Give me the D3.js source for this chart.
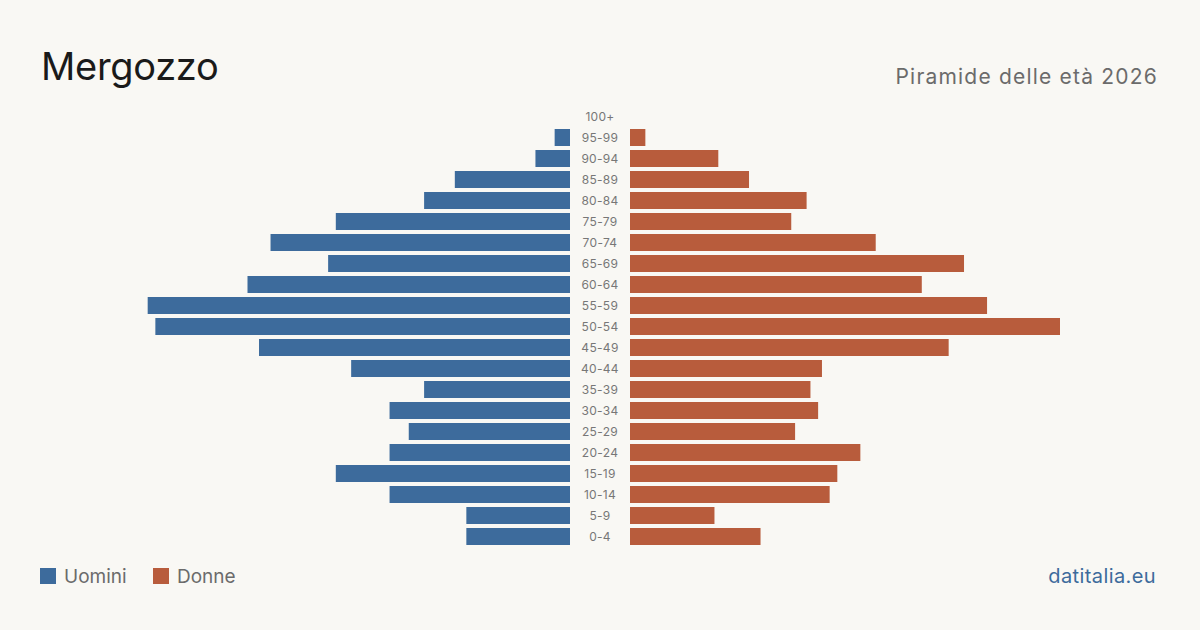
<!DOCTYPE html>
<html>
<head>
<meta charset="utf-8">
<script src="https://cdn.jsdelivr.net/npm/d3@7/dist/d3.min.js"></script>
<style>
  html, body { margin: 0; padding: 0; background: #f9f8f4; }
  svg { display: block; font-family: Inter, "Noto Sans", sans-serif; }
</style>
</head>
<body>
<svg id="chart" width="1200" height="630"></svg>
<script>
const ageGroups = ['100+', '95-99', '90-94', '85-89', '80-84', '75-79', '70-74', '65-69', '60-64', '55-59',
  '50-54', '45-49', '40-44', '35-39', '30-34', '25-29', '20-24', '15-19', '10-14', '5-9', '0-4'];
const men = [0, 4, 9, 30, 38, 61, 78, 63, 84, 110, 108, 81, 57, 38, 47, 42, 47, 61, 47, 27, 27];
const women = [0, 4, 23, 31, 46, 42, 64, 87, 76, 93, 112, 83, 50, 47, 49, 43, 60, 54, 52, 22, 34];
const legendLabels = ['Uomini', 'Donne'];

const colors = { men: '#3d6b9c', women: '#b85c3c' };
const center = { left: 570, right: 630 };

const svg = d3.select('#chart');

svg.append('rect').attr('width', 1200).attr('height', 630).attr('fill', '#f9f8f4');

// titles
svg.append('text')
  .attr('x', 41).attr('y', 80)
  .attr('font-size', 38).attr('fill', '#1a1a1a')
  .attr('letter-spacing', -0.3)
  .text('Mergozzo');

svg.append('text')
  .attr('x', 1158).attr('y', 84)
  .attr('text-anchor', 'end')
  .attr('font-size', 21).attr('fill', '#6b6b6b')
  .attr('letter-spacing', 1.2)
  .text('Piramide delle età 2026');

// scales
const x = d3.scaleLinear().domain([0, 112]).range([0, 430]);
const y = d3.scaleBand().domain(ageGroups).range([106, 547]).paddingInner(4 / 21).paddingOuter(2 / 21);

const rows = ageGroups.map((g, i) => ({ group: g, m: men[i], f: women[i] }));

svg.append('g').selectAll('rect')
  .data(rows)
  .enter().append('rect')
  .attr('x', d => center.left - x(d.m))
  .attr('y', d => y(d.group))
  .attr('width', d => x(d.m))
  .attr('height', y.bandwidth())
  .attr('fill', colors.men);

svg.append('g').selectAll('rect')
  .data(rows)
  .enter().append('rect')
  .attr('x', center.right)
  .attr('y', d => y(d.group))
  .attr('width', d => x(d.f))
  .attr('height', y.bandwidth())
  .attr('fill', colors.women);

// age labels
svg.append('g').selectAll('text')
  .data(rows)
  .enter().append('text')
  .attr('x', (center.left + center.right) / 2)
  .attr('y', d => y(d.group) + y.bandwidth() / 2)
  .attr('dy', '0.35em')
  .attr('text-anchor', 'middle')
  .attr('font-size', 12).attr('fill', '#777')
  .attr('letter-spacing', 0.3)
  .text(d => d.group);

// legend
const legend = svg.append('g').attr('transform', 'translate(40,568)');
const legendItems = [
  { label: legendLabels[0], color: colors.men, x: 0 },
  { label: legendLabels[1], color: colors.women, x: 113 }
];
legendItems.forEach(item => {
  legend.append('rect')
    .attr('x', item.x).attr('y', 0)
    .attr('width', 16).attr('height', 16)
    .attr('fill', item.color);
  legend.append('text')
    .attr('x', item.x + 24).attr('y', 15)
    .attr('font-size', 19).attr('fill', '#6b6b6b')
    .text(item.label);
});

svg.append('text')
  .attr('x', 1156).attr('y', 583)
  .attr('text-anchor', 'end')
  .attr('font-size', 20).attr('fill', '#3d6b9c')
  .attr('letter-spacing', 0.4)
  .text('datitalia.eu');
</script>
</body>
</html>
